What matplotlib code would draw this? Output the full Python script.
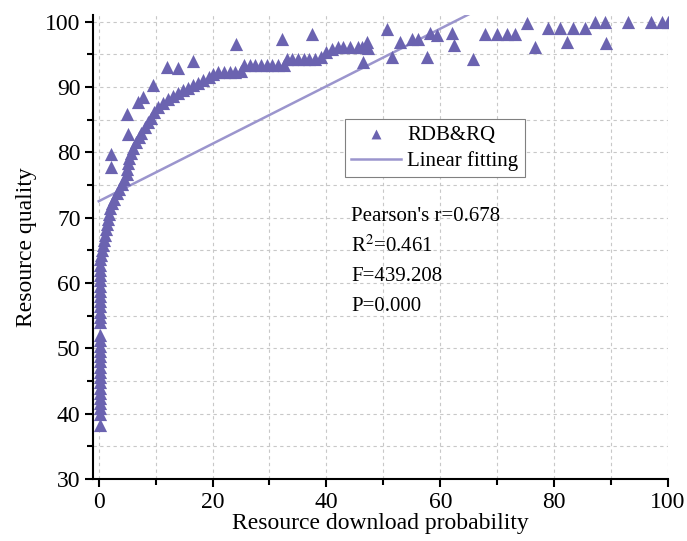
import matplotlib
matplotlib.use("Agg")
import matplotlib.pyplot as plt
import numpy as np
from matplotlib.ticker import MultipleLocator

plt.rcParams['font.family'] = ['Liberation Serif', 'DejaVu Serif']
plt.rcParams['mathtext.fontset'] = 'stix'

# ---- data ----
col_x = [0.3, 0.2, 0.3, 0.2, 0.3, 0.2, 0.3, 0.2, 0.3, 0.2, 0.3, 0.2, 0.3, 0.2, 0.3, 0.2, 0.3,
         0.2, 0.3, 0.2, 0.3, 0.2, 0.3, 0.2, 0.3, 0.2, 0.3, 0.2, 0.3, 0.2, 0.4]
col_y = [38.3, 40.0, 40.8, 41.6, 42.4, 43.2, 44.0, 44.8, 45.6, 46.4, 47.2, 48.0, 48.8, 49.6, 50.4, 51.2, 52.1,
         54.0, 54.8, 55.6, 56.4, 57.2, 58.0, 58.8, 59.6, 60.4, 61.2, 62.0, 62.8, 63.6, 64.3]

curve_x = [0.6, 0.8, 1.0, 1.1, 1.3, 1.5, 1.7, 1.8, 2.0, 2.3, 2.7, 3.2, 3.6, 4.1, 4.5, 4.9, 5.0, 5.1,
           5.3, 5.6, 6.0, 6.5, 7.0, 7.5, 8.1, 8.6, 9.1, 9.7, 10.5, 11.3, 12.1, 13.0, 13.9, 14.8,
           15.7, 16.6, 17.5, 18.4, 19.3, 20.0, 21.0, 22.0, 23.0, 24.0, 25.0, 25.5, 26.5, 27.5,
           28.5, 29.5, 30.5, 31.5, 32.5, 33.0, 34.0, 35.0, 36.0, 37.0, 38.0, 39.0, 40.0, 41.0,
           42.0, 43.0, 44.2, 45.5]
curve_y = [65.0, 65.8, 66.6, 67.4, 68.2, 69.0, 69.8, 70.6, 71.4, 72.2, 72.9, 73.7, 74.4, 75.1, 75.9,
           76.7, 77.5, 78.3, 79.1, 79.9, 80.7, 81.5, 82.3, 83.0, 83.8, 84.6, 85.3, 86.1, 86.9,
           87.5, 88.1, 88.6, 89.1, 89.5, 89.9, 90.3, 90.6, 91.0, 91.5, 92.0, 92.2, 92.3, 92.3,
           92.2, 92.5, 93.3, 93.3, 93.3, 93.3, 93.3, 93.3, 93.3, 93.3, 94.3, 94.3, 94.3, 94.3,
           94.3, 94.3, 94.6, 95.3, 95.8, 96.1, 96.1, 96.1, 96.1]

upper_x = [2.2, 2.2, 5.2, 4.9, 6.9, 7.7, 9.5, 12.0, 14.0, 16.6, 24.2, 32.2, 37.5,
           46.3, 47.1, 47.3, 46.5, 50.6, 51.5, 52.9, 55.0, 56.1, 57.7, 58.2, 59.4, 62.1,
           62.4, 65.8, 67.9, 70.0, 71.8, 73.2, 75.2, 76.7, 79.0, 81.0, 83.3, 85.5, 82.2,
           87.2, 88.9, 89.1, 93.0, 97.0, 99.0, 100.0]
upper_y = [79.7, 77.7, 82.8, 85.8, 87.7, 88.4, 90.3, 93.1, 92.9, 94.0, 96.6, 97.3, 98.1,
           96.1, 96.9, 95.9, 93.8, 98.8, 94.6, 96.9, 97.3, 97.3, 94.6, 98.2, 97.9, 98.2,
           96.4, 94.3, 98.1, 98.1, 98.1, 98.1, 99.8, 96.1, 99.0, 99.0, 99.0, 99.0, 96.9,
           100.0, 100.0, 96.7, 100.0, 100.0, 100.0, 100.0]

fit_intercept = 72.5
fit_slope = 0.44

stats_lines = ["Pearson's r=0.678", "R$^{2}$=0.461", "F=439.208", "P=0.000"]

x_all = np.array(col_x + curve_x + upper_x)
y_all = np.array(col_y + curve_y + upper_y)

marker_color = '#6b63b0'
line_color = '#9b95cd'

fig = plt.figure(figsize=(6.87, 5.41), dpi=100)
ax = fig.add_axes([0.1354, 0.1146, 0.8369, 0.8577])

ax.scatter(x_all, y_all, marker='^', s=90, color=marker_color, linewidths=0,
           label='RDB&RQ', zorder=3)
fx = np.array([0.0, 100.0])
ax.plot(fx, fit_intercept + fit_slope * fx, color=line_color, lw=1.8,
        label='Linear fitting', zorder=2)

ax.set_xlim(-1, 100)
ax.set_ylim(30, 101)
ax.xaxis.set_major_locator(MultipleLocator(20))
ax.xaxis.set_minor_locator(MultipleLocator(10))
ax.yaxis.set_major_locator(MultipleLocator(10))
ax.yaxis.set_minor_locator(MultipleLocator(5))

ax.grid(True, which='both', color='#c8c8c8', linestyle=(0, (3, 3)), linewidth=0.8)
ax.set_axisbelow(True)

for s in ['top', 'right']:
    ax.spines[s].set_visible(False)
for s in ['left', 'bottom']:
    ax.spines[s].set_linewidth(1.5)

ax.tick_params(which='major', direction='out', length=6, width=1.5, labelsize=17, pad=3)
ax.tick_params(which='minor', direction='out', length=4, width=1.5)

ax.set_xlabel('Resource download probability', fontsize=17, labelpad=0)
ax.set_ylabel('Resource quality', fontsize=17, labelpad=6)

leg = ax.legend(loc='upper left', bbox_to_anchor=(0.438, 0.776), borderaxespad=0,
                fontsize=15, frameon=True, fancybox=False, edgecolor='#808080',
                framealpha=1, handlelength=2.4, handletextpad=0.3, borderpad=0.3,
                labelspacing=0.3, markerscale=0.75)
leg.get_frame().set_linewidth(0.8)

for i, t in enumerate(stats_lines):
    ax.text(0.449, 0.566 - i * 0.065, t, transform=ax.transAxes, fontsize=15,
            va='center', ha='left')

fig.savefig('out.png', dpi=100)
